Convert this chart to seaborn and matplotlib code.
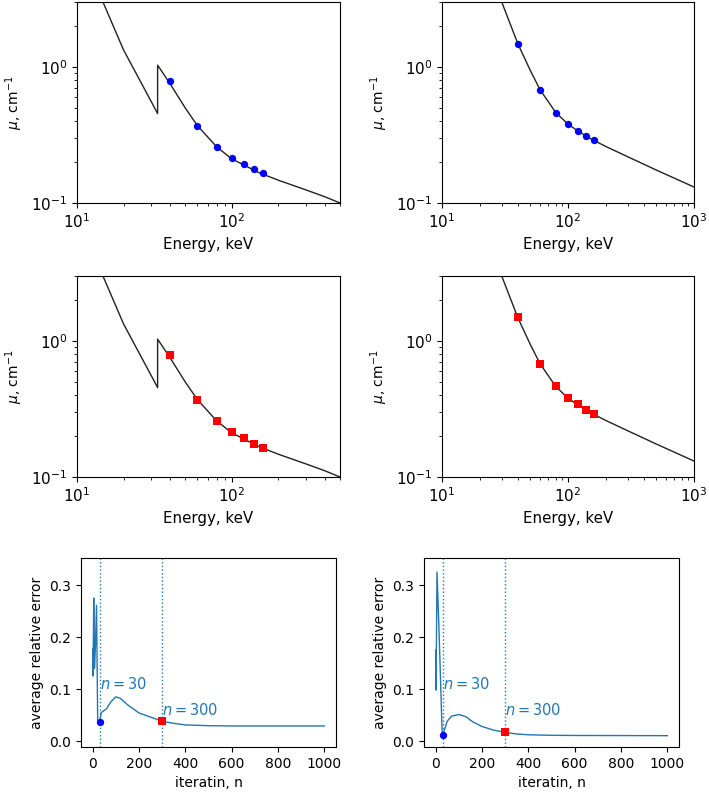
import matplotlib
matplotlib.use('Agg')
import matplotlib.pyplot as plt
import pandas as pd
import seaborn as sns

plt.rcParams.update({'xtick.labelsize': 10, 'ytick.labelsize': 10, 'axes.labelsize': 10})

# attenuation curve with K-edge (left column)
energy_edge = [10, 15, 20, 30, 33.17, 33.17, 40, 50, 60, 80, 100, 150, 200, 300, 400, 500]
mu_edge = [7.8, 2.85, 1.33, 0.563, 0.454, 1.03, 0.75, 0.50, 0.37, 0.258, 0.211, 0.167, 0.147, 0.125, 0.111, 0.100]

# attenuation curve without edge (right column)
energy_smooth = [20, 30, 40, 50, 60, 80, 100, 120, 150, 200, 300, 500, 1000]
mu_smooth = [7.5, 2.95, 1.48, 0.95, 0.68, 0.462, 0.38, 0.338, 0.298, 0.26, 0.218, 0.175, 0.131]

# reconstructed points
energy_pts = [40, 60, 80, 100, 120, 140, 160]
mu_left_n30 = [0.785, 0.366, 0.258, 0.214, 0.193, 0.177, 0.165]
mu_left_n300 = [0.793, 0.367, 0.257, 0.213, 0.192, 0.176, 0.164]
mu_right_n30 = [1.485, 0.674, 0.461, 0.381, 0.340, 0.309, 0.289]
mu_right_n300 = [1.51, 0.68, 0.466, 0.382, 0.343, 0.312, 0.290]

# convergence curves
iter_left = [1, 2, 5, 8, 12, 17, 22, 30, 38, 60, 80, 100, 120, 150, 200, 250, 300, 350, 400, 500, 600, 800, 1000]
err_left = [0.178, 0.125, 0.275, 0.14, 0.18, 0.261, 0.037, 0.037, 0.055, 0.062, 0.076, 0.085, 0.082, 0.07, 0.054, 0.046, 0.038, 0.034, 0.031, 0.0295, 0.029, 0.029, 0.029]
iter_right = [1, 2, 6, 15, 28, 30, 50, 70, 100, 130, 160, 200, 250, 300, 350, 400, 500, 600, 800, 1000]
err_right = [0.175, 0.098, 0.325, 0.21, 0.02, 0.011, 0.038, 0.048, 0.051, 0.047, 0.037, 0.028, 0.021, 0.0167, 0.0135, 0.012, 0.011, 0.0107, 0.0105, 0.0103]

W, H = 709, 792


def px_rect(left, top, right, bottom):
    return [left / W, 1 - bottom / H, (right - left) / W, (bottom - top) / H]


def plot_mu_panel(ax, energy, mu, pts_y, marker, color, xmax):
    ax.set_xscale('log')
    ax.set_yscale('log')
    df_curve = pd.DataFrame({'E': energy, 'mu': mu})
    sns.lineplot(data=df_curve, x='E', y='mu', ax=ax, color='#222222', linewidth=1,
                 estimator=None, sort=False)
    df_pts = pd.DataFrame({'E': energy_pts, 'mu': pts_y})
    sns.scatterplot(data=df_pts, x='E', y='mu', ax=ax, color=color, marker=marker,
                    s=28, linewidth=0, zorder=3)
    ax.set_xlim(10, xmax)
    ax.set_ylim(0.1, 3)
    ax.tick_params(which='major', labelsize=11)
    ax.set_xlabel('Energy, keV', fontsize=10.8)
    ax.set_ylabel(r'$\mu$, cm$^{-1}$')


def plot_error_panel(ax, iters, errs, n30_err, n300_err):
    df_err = pd.DataFrame({'n': iters, 'err': errs})
    sns.lineplot(data=df_err, x='n', y='err', ax=ax, color='C0', linewidth=1,
                 estimator=None, sort=False)
    ax.axvline(30, color='C0', linestyle=':', linewidth=1)
    ax.axvline(300, color='C0', linestyle=':', linewidth=1)
    sns.scatterplot(x=[30], y=[n30_err], ax=ax, color='b', marker='o', s=28, linewidth=0, zorder=3)
    sns.scatterplot(x=[300], y=[n300_err], ax=ax, color='r', marker='s', s=28, linewidth=0, zorder=3)
    ax.text(30, 0.1, r'$n=30$', color='C0', fontsize=10.5)
    ax.text(300, 0.05, r'$n=300$', color='C0', fontsize=10.5)
    ax.set_xlim(-50, 1050)
    ax.set_ylim(-0.0115, 0.352)
    ax.set_xticks([0, 200, 400, 600, 800, 1000])
    ax.set_yticks([0.0, 0.1, 0.2, 0.3])
    ax.set_xlabel('iteratin, n')
    ax.set_ylabel('average relative error')


fig = plt.figure(figsize=(W / 100, H / 100), dpi=100)

ax_tl = fig.add_axes(px_rect(77, 2, 340, 203))
ax_tr = fig.add_axes(px_rect(442, 2, 694, 203))
ax_ml = fig.add_axes(px_rect(77, 276, 340, 477))
ax_mr = fig.add_axes(px_rect(442, 276, 694, 477))
ax_bl = fig.add_axes(px_rect(81, 558, 336, 747))
ax_br = fig.add_axes(px_rect(424, 558, 679, 747))

plot_mu_panel(ax_tl, energy_edge, mu_edge, mu_left_n30, 'o', 'b', 500)
plot_mu_panel(ax_tr, energy_smooth, mu_smooth, mu_right_n30, 'o', 'b', 1000)
plot_mu_panel(ax_ml, energy_edge, mu_edge, mu_left_n300, 's', 'r', 500)
plot_mu_panel(ax_mr, energy_smooth, mu_smooth, mu_right_n300, 's', 'r', 1000)

plot_error_panel(ax_bl, iter_left, err_left, 0.037, 0.038)
plot_error_panel(ax_br, iter_right, err_right, 0.011, 0.0167)

fig.savefig('out.png', dpi=100)
